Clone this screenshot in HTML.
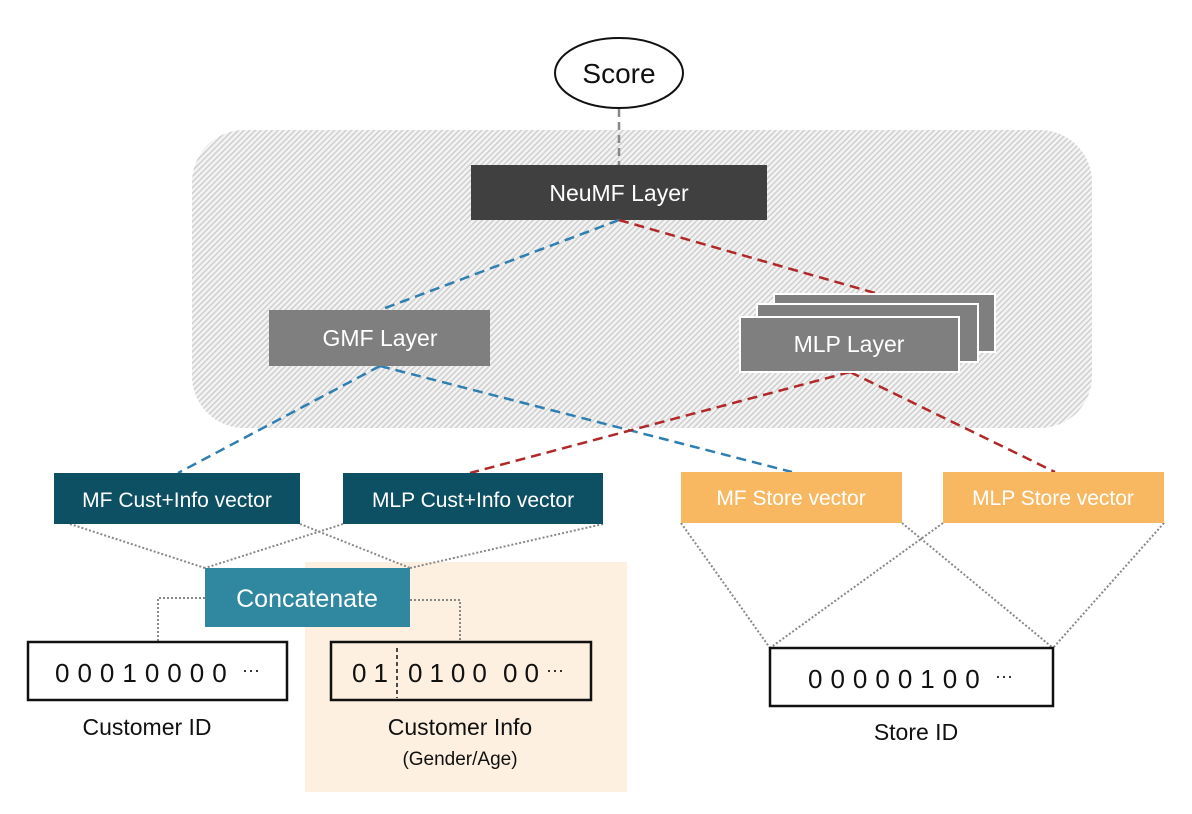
<!DOCTYPE html>
<html><head><meta charset="utf-8"><style>
html,body{margin:0;padding:0;background:#fff;}
svg{display:block;font-family:"Liberation Sans","DejaVu Sans",sans-serif;}
</style></head><body>
<svg width="1192" height="814" viewBox="0 0 1192 814" xmlns="http://www.w3.org/2000/svg">
<defs>
<pattern id="h" width="4" height="4" patternUnits="userSpaceOnUse" patternTransform="rotate(45)">
<rect width="4" height="4" fill="#f3f3f3"/>
<rect width="1.4" height="4" fill="#cdcdcd"/>
</pattern>
</defs>
<rect x="0" y="0" width="1192" height="814" fill="#fff"/>
<rect x="305" y="562" width="322" height="230" fill="#fdf0e0"/>
<rect x="192" y="130" width="900" height="298" rx="52" fill="url(#h)"/>
<ellipse cx="619" cy="73" rx="64" ry="35" fill="#fff" stroke="#111" stroke-width="2"/>
<text x="619" y="83" font-size="28" text-anchor="middle" fill="#111">Score</text>
<line x1="619" y1="109" x2="619" y2="165" stroke="#888" stroke-width="2.5" stroke-dasharray="8,5"/>
<rect x="471" y="165" width="296" height="55" fill="#404040"/>
<text x="619" y="201" font-size="23" text-anchor="middle" fill="#fff">NeuMF Layer</text>
<g stroke-width="2.5" stroke-dasharray="10,6" fill="none">
<line x1="619" y1="220" x2="380" y2="310" stroke="#2f7fb0"/>
<line x1="619" y1="220" x2="882" y2="295" stroke="#b02828"/>
<line x1="380" y1="366" x2="178" y2="473" stroke="#2f7fb0"/>
<line x1="380" y1="366" x2="792" y2="472" stroke="#2f7fb0"/>
<line x1="850" y1="372" x2="470" y2="473" stroke="#b02828"/>
<line x1="850" y1="372" x2="1055" y2="472" stroke="#b02828"/>
</g>
<rect x="269" y="310" width="221" height="56" fill="#7f7f7f"/>
<text x="380" y="346" font-size="23" text-anchor="middle" fill="#fff">GMF Layer</text>
<rect x="774" y="294" width="221" height="58" fill="#7f7f7f" stroke="#fff" stroke-width="2"/>
<rect x="757" y="304" width="221" height="58" fill="#7f7f7f" stroke="#fff" stroke-width="2"/>
<rect x="740" y="317" width="219" height="55" fill="#7f7f7f" stroke="#fff" stroke-width="2"/>
<text x="849" y="352" font-size="23" text-anchor="middle" fill="#fff">MLP Layer</text>
<g stroke="#888" stroke-width="2" stroke-dasharray="2,2" fill="none">
<line x1="70" y1="524" x2="205" y2="568"/>
<line x1="300" y1="524" x2="410" y2="568"/>
<line x1="343" y1="524" x2="205" y2="568"/>
<line x1="603" y1="524" x2="410" y2="568"/>
<polyline points="205,598 158,598 158,641"/>
<polyline points="410,600 460,600 460,641"/>
<line x1="681" y1="523" x2="770" y2="648"/>
<line x1="902" y1="523" x2="1053" y2="648"/>
<line x1="943" y1="523" x2="770" y2="648"/>
<line x1="1164" y1="523" x2="1053" y2="648"/>
</g>
<rect x="54" y="473" width="246" height="51" fill="#0d4f63"/>
<text x="177" y="507" font-size="21" text-anchor="middle" fill="#fff">MF Cust+Info vector</text>
<rect x="343" y="473" width="260" height="51" fill="#0d4f63"/>
<text x="473" y="507" font-size="21" text-anchor="middle" fill="#fff">MLP Cust+Info vector</text>
<rect x="681" y="472" width="221" height="51" fill="#f8b862"/>
<text x="791" y="505" font-size="21" text-anchor="middle" fill="#fff">MF Store vector</text>
<rect x="943" y="472" width="221" height="51" fill="#f8b862"/>
<text x="1053" y="505" font-size="21" text-anchor="middle" fill="#fff">MLP Store vector</text>
<rect x="205" y="568" width="205" height="59" fill="#2f87a0"/>
<text x="307" y="607" font-size="25" text-anchor="middle" fill="#fff">Concatenate</text>
<rect x="28" y="642" width="259" height="58" fill="#fff" stroke="#111" stroke-width="2.5"/>
<text x="55" y="682" font-size="26" fill="#111" letter-spacing="8">00010000</text>
<text x="242" y="676" font-size="18" fill="#111">···</text>
<rect x="331" y="642" width="260" height="58" fill="#fdf0e0" stroke="#111" stroke-width="2.5"/>
<line x1="397" y1="648" x2="397" y2="698" stroke="#111" stroke-width="1.5" stroke-dasharray="4,3"/>
<text x="352" y="682" font-size="26" fill="#111" letter-spacing="7">01</text>
<text x="408" y="682" font-size="26" fill="#111" letter-spacing="7">0100</text>
<text x="503" y="682" font-size="26" fill="#111" letter-spacing="7">00</text>
<text x="546" y="676" font-size="18" fill="#111">···</text>
<rect x="770" y="648" width="283" height="58" fill="#fff" stroke="#111" stroke-width="2.5"/>
<text x="808" y="688" font-size="26" fill="#111" letter-spacing="8">00000100</text>
<text x="995" y="682" font-size="18" fill="#111">···</text>
<text x="147" y="735" font-size="23" text-anchor="middle" fill="#111">Customer ID</text>
<text x="460" y="735" font-size="23" text-anchor="middle" fill="#111">Customer Info</text>
<text x="460" y="765" font-size="19" text-anchor="middle" fill="#111">(Gender/Age)</text>
<text x="916" y="740" font-size="23" text-anchor="middle" fill="#111">Store ID</text>
</svg>
</body></html>
